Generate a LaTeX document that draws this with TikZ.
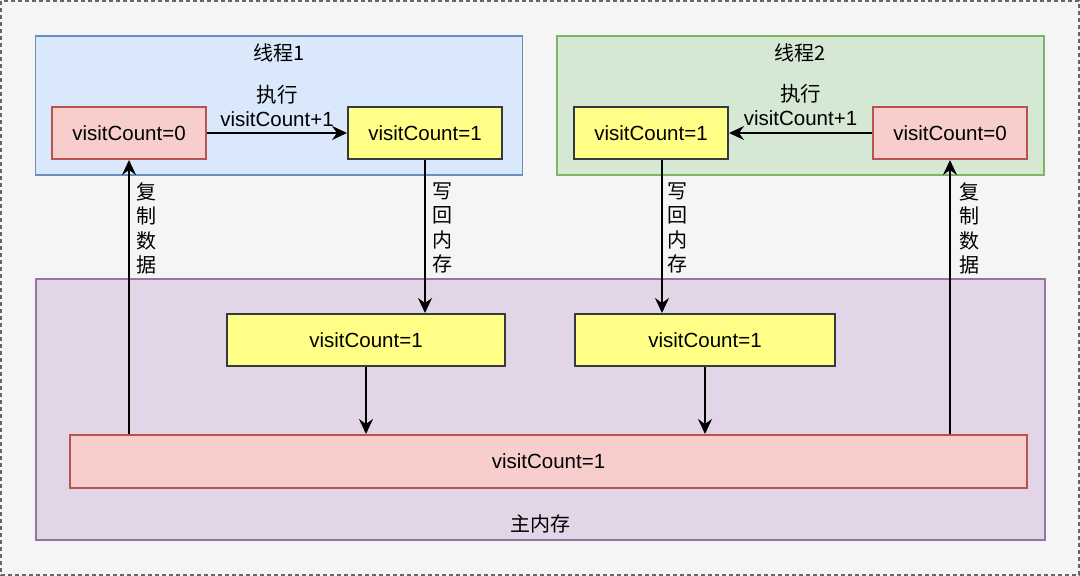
\documentclass[tikz,border=0pt]{standalone}
\usepackage{fontspec}
\setmainfont{Liberation Sans}
\newfontfamily\cjk{Noto Sans CJK SC}
\usetikzlibrary{arrows.meta,calc}
\definecolor{bgc}{HTML}{F5F5F5}
\definecolor{bordc}{HTML}{666666}
\definecolor{bluef}{HTML}{DAE8FC}
\definecolor{blued}{HTML}{6C8EBF}
\definecolor{greenf}{HTML}{D5E8D4}
\definecolor{greend}{HTML}{82B366}
\definecolor{purpf}{HTML}{E1D5E7}
\definecolor{purpd}{HTML}{9673A6}
\definecolor{redf}{HTML}{F8CECC}
\definecolor{redd}{HTML}{B85450}
\definecolor{yelf}{HTML}{FFFF88}
\definecolor{yeld}{HTML}{36393D}
\tikzset{
  txt/.style={inner sep=0pt, font=\fontsize{20.5}{24.5}\selectfont},
  cjktxt/.style={inner sep=0pt, align=center, font=\cjk\fontsize{20}{24.5}\selectfont},
  boxc/.style={draw, line width=2pt, inner sep=0pt, txt},
  container/.style={boxc, line width=1.6pt},
  redbox/.style={boxc, fill=redf, draw=redd},
  yelbox/.style={boxc, fill=yelf, draw=yeld},
  conn/.style={line width=1.8pt, -{Stealth[length=15pt,width=14pt,inset=5pt]}},
}
\begin{document}
\begin{tikzpicture}[x=1pt,y=-1pt]
\useasboundingbox (0,0) rectangle (1080,576);
\fill[bgc] (0,0) rectangle (1080,576);
\draw[bordc, line width=1.5pt, dash pattern=on 4pt off 3pt] (1,1) rectangle (1079,575);

% containers
\node[container, fill=bluef, draw=blued, minimum width=487, minimum height=139] (th1) at (279,105.5) {};
\node[container, fill=greenf, draw=greend, minimum width=487, minimum height=139] (th2) at (800.5,105.5) {};
\node[container, fill=purpf, draw=purpd, minimum width=1009, minimum height=261] (mem) at (540.5,409.5) {};

\node[cjktxt] (th1t) at (279,53) {线程1};
\node[cjktxt] (th2t) at (800.5,53) {线程2};
\node[cjktxt] (memt) at (540,524) {主内存};

% thread 1
\node[redbox, minimum width=154, minimum height=52] (r1) at (129,133) {visitCount=0};
\node[yelbox, minimum width=154, minimum height=52] (y1) at (425,133) {visitCount=1};
% thread 2
\node[yelbox, minimum width=154, minimum height=52] (y2) at (651,133) {visitCount=1};
\node[redbox, minimum width=154, minimum height=52] (r2) at (950,133) {visitCount=0};

% main memory
\node[yelbox, minimum width=278, minimum height=52] (m1) at (366,340) {visitCount=1};
\node[yelbox, minimum width=260, minimum height=52] (m2) at (705,340) {visitCount=1};
\node[redbox, minimum width=957, minimum height=53] (mm) at (548.5,461.5) {visitCount=1};

% connectors
\draw[conn] (r1) -- node[midway, yshift=27pt, txt, align=center] {{\cjk 执行}\\visitCount+1} (y1);
\draw[conn] (r2) -- node[midway, yshift=28pt, txt, align=center] {{\cjk 执行}\\visitCount+1} (y2);

\draw[conn] (r1.south |- mm.north) -- node[pos=0.75, xshift=17pt, cjktxt] {复\\制\\数\\据} (r1.south);
\draw[conn] (r2.south |- mm.north) -- node[pos=0.75, xshift=19pt, cjktxt] {复\\制\\数\\据} (r2.south);

\draw[conn] (y1.south) -- node[pos=0.445, xshift=17pt, cjktxt] {写\\回\\内\\存} (y1.south |- m1.north);
\coordinate (y2w) at ($(y2.south)+(11,0)$);
\draw[conn] (y2w) -- node[pos=0.445, xshift=15pt, cjktxt] {写\\回\\内\\存} (y2w |- m2.north);

\draw[conn] (m1.south) -- (m1.south |- mm.north);
\draw[conn] (m2.south) -- (m2.south |- mm.north);
\end{tikzpicture}
\end{document}
